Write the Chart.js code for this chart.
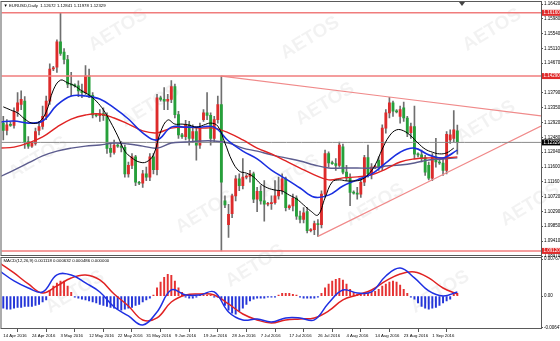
<!DOCTYPE html>
<html>
<head>
<meta charset="utf-8">
<script src="https://cdn.jsdelivr.net/npm/chart.js@4.4.1/dist/chart.umd.min.js"></script>
<style>
  html, body { margin: 0; padding: 0; background: #fff; }
  #wrap { position: relative; width: 560px; height: 341px; }
</style>
</head>
<body>
<div id="wrap"><canvas id="chart" width="560" height="341"></canvas></div>
<script>
// EURUSD daily, 14 Apr - 9 Sep 2016 (one bar per trading day, Sunday bars included)
const dateBars = [0, 8, 16, 24, 32, 40, 48, 56, 64, 72, 80, 88, 96, 104, 112, 120];
const dateLabels = ["14 Apr 2016", "24 Apr 2016", "3 May 2016", "12 May 2016", "22 May 2016",
  "31 May 2016", "9 Jun 2016", "19 Jun 2016", "28 Jun 2016", "7 Jul 2016", "17 Jul 2016",
  "26 Jul 2016", "4 Aug 2016", "14 Aug 2016", "23 Aug 2016", "1 Sep 2016"];

const priceTicks = [1.16420, 1.15980, 1.15540, 1.15110, 1.14670, 1.14230, 1.13790, 1.13350, 1.12920,
  1.12480, 1.12040, 1.11600, 1.11160, 1.10720, 1.10290, 1.09850, 1.09410, 1.08970];
const macdTicks = [0.007674, 0, -0.006471];
const macdTickLabels = ["0.007674", "0.00", "-0.006471"];

const open = [
  1.1290, 1.1268, 1.1285, 1.1283, 1.1325, 1.1345, 1.1355, 1.1235, 1.1222, 1.1230,
  1.1268, 1.1280, 1.1310, 1.1355, 1.1450, 1.1455, 1.1530, 1.1500, 1.1478, 1.1405,
  1.1402, 1.1400, 1.1385, 1.1380, 1.1430, 1.1372, 1.1314, 1.1312, 1.1318, 1.1312,
  1.1215, 1.1203, 1.1225, 1.1222, 1.1218, 1.1140, 1.1165, 1.1190, 1.1115, 1.1112,
  1.1140, 1.1130, 1.1190, 1.1152, 1.1365, 1.1360, 1.1355, 1.1360, 1.1398, 1.1315,
  1.1255, 1.1250, 1.1285, 1.1245, 1.1265, 1.1225, 1.1300, 1.1320, 1.1313, 1.1245,
  1.1300, 1.1345, 1.1060, 1.0990, 1.1022, 1.1075, 1.1125, 1.1105, 1.1130, 1.1132,
  1.1140, 1.1065, 1.1088, 1.1060, 1.1050, 1.1052, 1.1055, 1.1075, 1.1090, 1.1125,
  1.1040, 1.1045, 1.1068, 1.1015, 1.1005, 1.1028, 1.0972, 1.0975, 1.0993, 1.0990,
  1.1080, 1.1200, 1.1172, 1.1170, 1.1165, 1.1220, 1.1145, 1.1128, 1.1085, 1.1083,
  1.1080, 1.1115, 1.1188, 1.1140, 1.1160, 1.1180, 1.1160, 1.1275, 1.1320, 1.1350,
  1.1325, 1.1310, 1.1335, 1.1305, 1.1262, 1.1280, 1.1198, 1.1196, 1.1188, 1.1165,
  1.1127, 1.1190, 1.1175, 1.1172, 1.1150, 1.1240, 1.1245, 1.12672
];
const high = [
  1.1310, 1.1300, 1.1292, 1.1335, 1.1380, 1.1385, 1.1368, 1.1250, 1.1233, 1.1275,
  1.1295, 1.1340, 1.1370, 1.1465, 1.1458, 1.1536, 1.1616, 1.1510, 1.1490, 1.1440,
  1.1406, 1.1415, 1.1405, 1.1460, 1.1450, 1.1380, 1.1318, 1.1330, 1.1335, 1.1320,
  1.1230, 1.1240, 1.1228, 1.1235, 1.1225, 1.1175, 1.1200, 1.1195, 1.1118, 1.1150,
  1.1160, 1.1200, 1.1200, 1.1375, 1.1370, 1.1395, 1.1375, 1.1416, 1.1405, 1.1325,
  1.1260, 1.1298, 1.1295, 1.1285, 1.1275, 1.1290, 1.1330, 1.1380, 1.1320, 1.1310,
  1.1370, 1.1429, 1.1075, 1.1050, 1.1080, 1.1135, 1.1140, 1.1185, 1.1138, 1.1150,
  1.1145, 1.1100, 1.1105, 1.1120, 1.1056, 1.1075, 1.1120, 1.1130, 1.1140, 1.1130,
  1.1048, 1.1080, 1.1075, 1.1030, 1.1040, 1.1040, 1.0978, 1.1000, 1.1005, 1.1090,
  1.1210, 1.1205, 1.1178, 1.1185, 1.1234, 1.1228, 1.1165, 1.1140, 1.1090, 1.1100,
  1.1125, 1.1195, 1.1225, 1.1170, 1.1165, 1.1190, 1.1285, 1.1330, 1.1366, 1.1355,
  1.1330, 1.1340, 1.1352, 1.1310, 1.1290, 1.1340, 1.1202, 1.1210, 1.1195, 1.1175,
  1.1200, 1.1245, 1.1180, 1.1185, 1.1265, 1.1270, 1.1327, 1.12841
];
const low = [
  1.1240, 1.1255, 1.1280, 1.1275, 1.1310, 1.1330, 1.1215, 1.1215, 1.1218, 1.1225,
  1.1255, 1.1272, 1.1300, 1.1345, 1.1445, 1.1440, 1.1490, 1.1465, 1.1395, 1.1370,
  1.1396, 1.1368, 1.1365, 1.1375, 1.1365, 1.1305, 1.1308, 1.1295, 1.1298, 1.1200,
  1.1190, 1.1198, 1.1218, 1.1205, 1.1130, 1.1130, 1.1155, 1.1105, 1.1108, 1.1100,
  1.1120, 1.1120, 1.1140, 1.1137, 1.1355, 1.1330, 1.1330, 1.1350, 1.1305, 1.1245,
  1.1245, 1.1240, 1.1225, 1.1232, 1.1180, 1.1215, 1.1295, 1.1300, 1.1225, 1.1235,
  1.1290, 1.0912, 1.1040, 1.0952, 1.1010, 1.1060, 1.1090, 1.1095, 1.1125, 1.1115,
  1.1055, 1.1028, 1.1050, 1.1000, 1.1045, 1.1035, 1.1050, 1.1065, 1.1080, 1.1030,
  1.1035, 1.1030, 1.1005, 1.0995, 1.0995, 1.0965, 1.0968, 1.0960, 1.0955, 1.0980,
  1.1070, 1.1160, 1.1168, 1.1150, 1.1160, 1.1140, 1.1120, 1.1046, 1.1080, 1.1065,
  1.1070, 1.1105, 1.1130, 1.1125, 1.1155, 1.1150, 1.1150, 1.1260, 1.1305, 1.1310,
  1.1320, 1.1290, 1.1295, 1.1250, 1.1245, 1.1185, 1.1190, 1.1175, 1.1135, 1.1122,
  1.1120, 1.1160, 1.1168, 1.1135, 1.1140, 1.1230, 1.1235, 1.11978
];
const close = [
  1.1268, 1.1285, 1.1283, 1.1325, 1.1350, 1.1360, 1.1235, 1.1222, 1.1230, 1.1265,
  1.1280, 1.1310, 1.1355, 1.1450, 1.1453, 1.1530, 1.1496, 1.1478, 1.1405, 1.1402,
  1.1400, 1.1385, 1.1380, 1.1430, 1.1372, 1.1314, 1.1312, 1.1318, 1.1312, 1.1215,
  1.1203, 1.1225, 1.1222, 1.1218, 1.1140, 1.1165, 1.1190, 1.1115, 1.1112, 1.1140,
  1.1130, 1.1190, 1.1152, 1.1365, 1.1360, 1.1355, 1.1360, 1.1398, 1.1315, 1.1255,
  1.1250, 1.1285, 1.1245, 1.1265, 1.1225, 1.1275, 1.1320, 1.1313, 1.1245, 1.1300,
  1.1345, 1.1115, 1.1048, 1.1020, 1.1075, 1.1125, 1.1105, 1.1130, 1.1132, 1.1140,
  1.1065, 1.1088, 1.1060, 1.1050, 1.1052, 1.1055, 1.1075, 1.1090, 1.1125, 1.1040,
  1.1045, 1.1068, 1.1015, 1.1005, 1.1025, 1.0972, 1.0975, 1.0993, 1.0990, 1.1080,
  1.1200, 1.1172, 1.1170, 1.1165, 1.1225, 1.1145, 1.1128, 1.1085, 1.1083, 1.1080,
  1.1115, 1.1188, 1.1140, 1.1160, 1.1162, 1.1160, 1.1275, 1.1320, 1.1350, 1.1325,
  1.1323, 1.1330, 1.1305, 1.1260, 1.1280, 1.1198, 1.1196, 1.1188, 1.1145, 1.1127,
  1.1190, 1.1175, 1.1172, 1.1150, 1.1257, 1.1255, 1.1270, 1.12329
];

// moving averages, one value every `step` bars from `start`
const maFastStart = 0, maFastStep = 2;
const maFast = [
  1.1338, 1.1329, 1.1320, 1.1302, 1.1290, 1.1293, 1.1323, 1.1388, 1.1417, 1.1409,
  1.1400, 1.1385, 1.1373, 1.1355, 1.1329, 1.1293, 1.1252, 1.1207, 1.1187, 1.1175,
  1.1175, 1.1196, 1.1264, 1.1299, 1.1287, 1.1287, 1.1284, 1.1278, 1.1284, 1.1290,
  1.1281, 1.1231, 1.1178, 1.1148, 1.1142, 1.1131, 1.1110, 1.1098, 1.1092, 1.1089,
  1.1077, 1.1066, 1.1048, 1.1030, 1.1018, 1.1069, 1.1116, 1.1122, 1.1119, 1.1119,
  1.1122, 1.1137, 1.1166, 1.1213, 1.1252, 1.1270, 1.1267, 1.1252, 1.1231, 1.1213,
  1.1204, 1.1199, 1.1202, 1.1216
];
const maStart = -1, maStep = 4;
const maBlue = [1.1293, 1.1296, 1.1290, 1.1296, 1.1343, 1.1370, 1.1370, 1.1361, 1.1335, 1.1302,
  1.1261, 1.1240, 1.1278, 1.1278, 1.1278, 1.1278, 1.1237, 1.1207, 1.1184, 1.1151, 1.1125,
  1.1098, 1.1071, 1.1077, 1.1104, 1.1122, 1.1139, 1.1172, 1.1204, 1.1216, 1.1196, 1.1187, 1.1210];
const maRed = [1.1216, 1.1219, 1.1231, 1.1249, 1.1278, 1.1302, 1.1314, 1.1317, 1.1305, 1.1287,
  1.1267, 1.1261, 1.1275, 1.1278, 1.1275, 1.1275, 1.1261, 1.1240, 1.1216, 1.1199, 1.1178,
  1.1157, 1.1137, 1.1122, 1.1128, 1.1131, 1.1137, 1.1154, 1.1175, 1.1184, 1.1187, 1.1187, 1.1190];
const maSlow = [1.1131, 1.1151, 1.1172, 1.1193, 1.1207, 1.1216, 1.1222, 1.1225, 1.1231, 1.1228,
  1.1222, 1.1216, 1.1231, 1.1234, 1.1237, 1.1237, 1.1231, 1.1216, 1.1207, 1.1196, 1.1187,
  1.1178, 1.1166, 1.1157, 1.1157, 1.1157, 1.1157, 1.1163, 1.1166, 1.1172, 1.1181, 1.1184, 1.1187];

// MACD(12,26,9)
const macdLine = [0.00520, 0.00314, 0.00169, 0.00087, 0.00438, 0.00438, 0.00273, 0.00087, -0.00223,
  -0.00409, -0.00595, -0.00326, 0.00128, 0.00025, 0.00025, 0.00087, -0.00326, -0.00491, -0.00471,
  -0.00533, -0.00450, -0.00450, -0.00491, -0.00140, 0.00128, 0.00066, 0.00087, 0.00417, 0.00582,
  0.00376, 0.00107, 0.00004, 0.00087];
const signalLine = [0.00686, 0.00479, 0.00252, 0.00066, 0.00211, 0.00376, 0.00438, 0.00335, 0.00045,
  -0.00202, -0.00491, -0.00450, -0.00120, 0.00025, 0.00045, 0.00025, -0.00161, -0.00368, -0.00491,
  -0.00553, -0.00491, -0.00471, -0.00450, -0.00306, -0.00078, 0.00025, 0.00128, 0.00314, 0.00458,
  0.00500, 0.00376, 0.00169, 0.00045];
const macdHist = [
  -0.0025, -0.0027, -0.0027, -0.0025, -0.0023, -0.0023, -0.0021, -0.0021, -0.0021, -0.0019,
  -0.0017, -0.0012, -0.0008, 0.0012, 0.0021, 0.0027, 0.0031, 0.0031, 0.0021, 0.0008,
  -0.0002, -0.0004, -0.0006, -0.0008, -0.0010, -0.0012, -0.0014, -0.0017, -0.0019, -0.0021,
  -0.0023, -0.0025, -0.0027, -0.0029, -0.0027, -0.0025, -0.0023, -0.0019, -0.0017, -0.0012,
  -0.0008, -0.0004, 0.0002, 0.0017, 0.0029, 0.0039, 0.0045, 0.0043, 0.0031, 0.0017,
  0.0008, -0.0002, -0.0004, -0.0004, -0.0002, 0.0002, 0.0002, 0.0002, 0.0002, -0.0002,
  -0.0002, -0.0006, -0.0019, -0.0029, -0.0035, -0.0037, -0.0031, -0.0025, -0.0017, -0.0010,
  -0.0006, -0.0004, -0.0004, -0.0004, -0.0002, -0.0002, -0.0002, 0.0002, 0.0006, 0.0006,
  0.0006, 0.0004, 0.0002, -0.0002, -0.0004, -0.0004, -0.0004, -0.0004, -0.0002, 0.0006,
  0.0017, 0.0025, 0.0031, 0.0035, 0.0037, 0.0033, 0.0025, 0.0014, 0.0008, 0.0004,
  0.0004, 0.0006, 0.0006, 0.0008, 0.0010, 0.0014, 0.0021, 0.0025, 0.0029, 0.0031,
  0.0029, 0.0023, 0.0014, 0.0006, -0.0002, -0.0006, -0.0014, -0.0021, -0.0025, -0.0027,
  -0.0025, -0.0023, -0.0019, -0.0014, -0.0010, -0.0006, 0.0004, 0.0006
];

// drawn objects: horizontal levels, bid line, triangle sides [bar, price]
const levels = [1.1616, 1.1429, 1.0912];
const levelLabels = ["1.16160", "1.14290", "1.09120"];
const bidPrice = 1.12329;
const upperTrend = [[61, 1.1429], [150.4, 1.1311]];
const lowerTrend = [[88, 1.0955], [150.4, 1.1281]];

const FONT = "Liberation Sans";
const X_MIN = -0.5, X_MAX = 150.4;

const sampled = (values, start, step) => values.map((v, k) => ({ x: start + k * step, y: v }));
const hline = p => [{ x: X_MIN, y: p }, { x: X_MAX, y: p }];
const seg = pts => pts.map(([x, y]) => ({ x, y }));

const lineDs = (data, color, width, axis, order) => ({
  type: "line", data, borderColor: color, borderWidth: width, pointRadius: 0,
  tension: 0.4, yAxisID: axis, order
});

const bodyColors = close.map((c, i) => (c >= open[i] ? "#dd2b2b" : "#26a03a"));
const histColors = macdHist.map(v => (v >= 0 ? "#e53232" : "#2536d8"));

// watermark, panel frames and axis tags
const mt4Look = {
  id: "mt4Look",
  beforeDatasetsDraw(chart) {
    const ctx = chart.ctx;
    const marks = [[118, 30], [310, 38], [492, 30], [150, 106], [325, 104], [486, 122],
      [38, 158], [205, 212], [290, 176], [375, 205], [530, 205], [75, 292], [255, 266], [440, 292]];
    ctx.save();
    ctx.font = "bold 19px " + FONT;
    ctx.fillStyle = "rgba(0,0,0,0.05)";
    ctx.textAlign = "center";
    ctx.textBaseline = "middle";
    for (const [x, y] of marks) {
      ctx.save();
      ctx.translate(x, y);
      ctx.rotate(-0.55);
      ctx.fillText("AETOS", 0, 0);
      ctx.restore();
    }
    ctx.restore();
  },
  afterDraw(chart) {
    const { ctx, chartArea } = chart;
    const y = chart.scales.y, y2 = chart.scales.y2;
    const l = chartArea.left, r = chartArea.right;
    ctx.save();
    ctx.strokeStyle = "#5a5a5a";
    ctx.lineWidth = 1;
    ctx.strokeRect(l - 0.5, y.top - 0.5, r - l + 1, y.bottom - y.top);
    ctx.strokeRect(l - 0.5, y2.top + 1.5, r - l + 1, y2.bottom - y2.top - 2);

    ctx.font = "4.5px " + FONT;
    ctx.textBaseline = "middle";
    levels.forEach((p, i) => {
      const py = y.getPixelForValue(p);
      ctx.fillStyle = "#e02a2a";
      ctx.fillRect(r + 1, py - 3, 19, 6);
      ctx.fillStyle = "#fff";
      ctx.fillText(levelLabels[i], r + 2.5, py);
    });
    const by = y.getPixelForValue(bidPrice);
    ctx.fillStyle = "#000";
    ctx.fillRect(r + 1, by - 3, 19, 6);
    ctx.fillStyle = "#fff";
    ctx.fillText(bidPrice.toFixed(5), r + 2.5, by);

    ctx.fillStyle = "#000";
    ctx.font = "4.3px " + FONT;
    ctx.fillText("\u25BC EURUSD,Daily  1.12672 1.12841 1.11978 " + bidPrice.toFixed(5), l + 2, y.top + 3.5);
    ctx.fillText("MACD(12,26,9) 0.001118 0.000632 0.000486 0.000000", l + 2, y2.top + 5);

    // chart shift marker
    ctx.fillStyle = "#444";
    ctx.beginPath();
    ctx.moveTo(459, y.top);
    ctx.lineTo(465, y.top);
    ctx.lineTo(462, y.top + 4);
    ctx.closePath();
    ctx.fill();
    ctx.restore();
  }
};

new Chart(document.getElementById("chart"), {
  type: "bar",
  data: {
    datasets: [
      lineDs(sampled(maFast, maFastStart, maFastStep), "#000000", 1, "y", 1),
      lineDs(sampled(maBlue, maStart, maStep), "#1a2fe0", 1.6, "y", 1),
      lineDs(sampled(maRed, maStart, maStep), "#e02424", 1.4, "y", 2),
      lineDs(sampled(maSlow, maStart, maStep), "#5c5c8e", 1.4, "y", 2),
      lineDs(hline(levels[0]), "#f07c7c", 1.4, "y", 3),
      lineDs(hline(levels[1]), "#f07c7c", 1.4, "y", 3),
      lineDs(hline(levels[2]), "#f07c7c", 1.4, "y", 3),
      lineDs(hline(bidPrice), "#8a8a8a", 1, "y", 3),
      lineDs(seg(upperTrend), "#f08a8a", 1.2, "y", 3),
      lineDs(seg(lowerTrend), "#f08a8a", 1.2, "y", 3),
      {
        type: "bar", yAxisID: "y", order: 8, grouped: false,
        data: open.map((o, i) => ({ x: i, y: [o, close[i]] })),
        backgroundColor: bodyColors, barThickness: 2.2, minBarLength: 1
      },
      {
        type: "bar", yAxisID: "y", order: 9, grouped: false,
        data: low.map((lo, i) => ({ x: i, y: [lo, high[i]] })),
        backgroundColor: "#6f6f6f", barThickness: 1
      },
      lineDs(sampled(macdLine, maStart, maStep), "#1f30e2", 1.5, "y2", 1),
      lineDs(sampled(signalLine, maStart, maStep), "#e02222", 1.5, "y2", 1),
      {
        type: "bar", yAxisID: "y2", order: 6, grouped: false,
        data: macdHist.map((v, i) => ({ x: i, y: v })),
        backgroundColor: histColors, barThickness: 1.3
      }
    ]
  },
  options: {
    responsive: false,
    animation: false,
    devicePixelRatio: 1,
    layout: { padding: { left: 1.5, top: 2, right: 0, bottom: 0 } },
    plugins: { legend: { display: false }, tooltip: { enabled: false } },
    scales: {
      x: {
        type: "linear", min: X_MIN, max: X_MAX, offset: false, position: "bottom",
        afterBuildTicks: s => { s.ticks = dateBars.map(v => ({ value: v })); },
        afterFit: s => { s.height = 12; s.paddingLeft = 0; s.paddingRight = 0; },
        ticks: {
          autoSkip: false, maxRotation: 0, align: "start", padding: 1, color: "#000",
          font: { family: FONT, size: 4.3 },
          callback: v => dateLabels[dateBars.indexOf(v)]
        },
        grid: { display: true, drawOnChartArea: false, tickLength: 3, color: "#555" },
        border: { display: false }
      },
      y: {
        type: "linear", position: "right", stack: "panes", stackWeight: 254,
        min: 1.0897, max: 1.1648,
        afterBuildTicks: s => { s.ticks = priceTicks.map(v => ({ value: v })); },
        afterFit: s => { s.width = 19; s.paddingTop = 0; s.paddingBottom = 0; },
        ticks: {
          autoSkip: false, padding: 1, color: "#000", font: { family: FONT, size: 4.5 },
          callback: v => v.toFixed(5)
        },
        grid: { display: true, drawOnChartArea: false, tickLength: 2, color: "#555" },
        border: { display: false }
      },
      y2: {
        type: "linear", position: "right", stack: "panes", stackWeight: 73,
        min: -0.006781, max: 0.008294,
        afterBuildTicks: s => { s.ticks = macdTicks.map(v => ({ value: v })); },
        afterFit: s => { s.width = 19; s.paddingTop = 0; s.paddingBottom = 0; },
        ticks: {
          autoSkip: false, padding: 1, color: "#000", font: { family: FONT, size: 4.5 },
          callback: v => macdTickLabels[macdTicks.indexOf(v)]
        },
        grid: { display: true, drawOnChartArea: false, tickLength: 2, color: "#555" },
        border: { display: false }
      }
    }
  },
  plugins: [mt4Look]
});
</script>
</body>
</html>
